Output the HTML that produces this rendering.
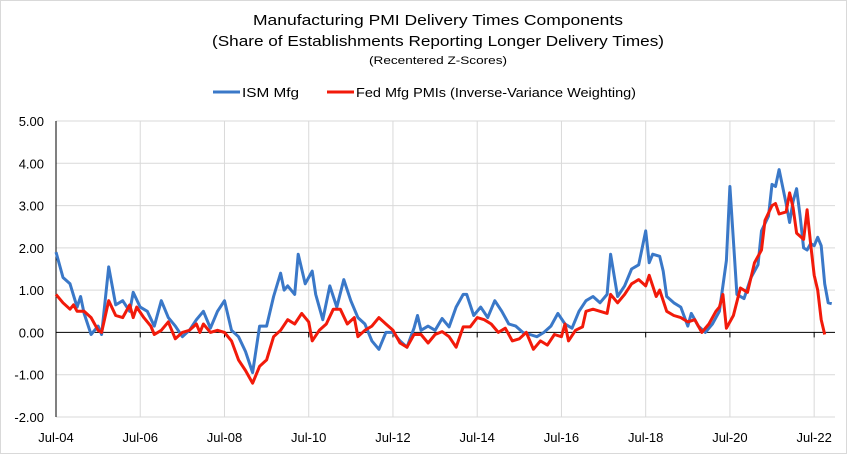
<!DOCTYPE html>
<html><head><meta charset="utf-8"><style>
body{margin:0;background:#fff}
svg{display:block;font-family:"Liberation Sans",sans-serif}
</style></head><body>
<svg id="chart" width="847" height="454" xmlns="http://www.w3.org/2000/svg">
<rect x="0.5" y="0.5" width="846" height="453" fill="#fff" stroke="#d9d9d9"/>
<g text-anchor="middle" fill="#000">
<text x="438" y="25" font-size="15" textLength="370" lengthAdjust="spacingAndGlyphs">Manufacturing PMI Delivery Times Components</text>
<text x="438" y="46" font-size="15" textLength="452" lengthAdjust="spacingAndGlyphs">(Share of Establishments Reporting Longer Delivery Times)</text>
<text x="438" y="64" font-size="11" textLength="138" lengthAdjust="spacingAndGlyphs">(Recentered Z-Scores)</text>
</g>
<g font-size="13">
<g><line x1="213" y1="92" x2="240" y2="92" stroke="#3a78c8" stroke-width="3"/><text x="242" y="97" textLength="57" lengthAdjust="spacingAndGlyphs">ISM Mfg</text></g>
<g><line x1="327" y1="92" x2="354" y2="92" stroke="#f21a0a" stroke-width="3"/><text x="356" y="97" textLength="280" lengthAdjust="spacingAndGlyphs">Fed Mfg PMIs (Inverse-Variance Weighting)</text></g>
</g>
<g id="grid"></g>
<g id="axes"></g>
<g id="series"></g>
</svg>
<script>
const yTicks=[5,4,3,2,1,0,-1,-2];
const xTickLabels=["Jul-04","Jul-06","Jul-08","Jul-10","Jul-12","Jul-14","Jul-16","Jul-18","Jul-20","Jul-22"];
const xTickMonths=[0,24,48,72,96,120,144,168,192,216];
const ismMonths=[0,2,4,6,7,8,10,12,13,15,17,19,21,22,24,26,28,30,32,34,36,38,40,42,44,46,48,50,52,54,56,58,60,62,64,65,66,68,69,71,73,74,76,78,80,82,84,86,88,90,92,94,96,98,100,102,103,104,106,108,110,112,114,116,117,119,121,123,125,127,129,131,133,135,137,139,141,143,145,147,149,151,153,155,157,158,160,162,164,166,168,169,170,172,173,174,176,178,180,181,183,185,187,189,191,192,194,196,198,200,201,203,204,205,206,208,209,210,211,212,213,214,215,216,217,218,219,220,221];
const ismValues=[1.9,1.3,1.15,0.6,0.85,0.45,-0.05,0.15,-0.05,1.55,0.65,0.75,0.5,0.95,0.6,0.5,0.15,0.75,0.35,0.15,-0.1,0.05,0.3,0.5,0.1,0.5,0.75,0.05,-0.1,-0.45,-0.95,0.15,0.15,0.85,1.4,1.0,1.1,0.9,1.85,1.15,1.45,0.9,0.3,1.1,0.6,1.25,0.75,0.35,0.2,-0.2,-0.4,0,0,-0.2,-0.35,0.1,0.4,0.05,0.15,0.05,0.33,0.13,0.6,0.9,0.9,0.4,0.6,0.35,0.75,0.5,0.2,0.15,0,-0.05,-0.1,0,0.15,0.45,0.2,0.1,0.5,0.75,0.85,0.7,0.9,1.85,0.85,1.1,1.5,1.6,2.4,1.65,1.85,1.8,1.45,0.85,0.7,0.6,0.15,0.45,0.15,0,0.2,0.5,1.7,3.45,0.9,0.8,1.3,1.6,2.4,2.75,3.5,3.45,3.85,3.05,2.6,3.1,3.4,2.75,2.0,1.95,2.1,2.05,2.25,2.05,1.15,0.7,0.68];
const fedMonths=[0,2,4,5,6,8,10,12,13,15,17,19,21,22,23,25,27,28,30,32,34,36,38,40,41,42,44,46,48,50,52,54,56,58,60,62,64,66,68,70,72,73,75,77,79,81,83,85,86,88,90,92,94,96,98,100,102,104,106,108,110,112,114,116,118,120,122,124,126,128,130,132,134,136,138,140,142,144,145,146,148,150,151,153,155,157,158,160,162,164,166,168,169,171,172,174,176,178,180,182,184,186,188,189,190,191,193,195,197,199,201,202,204,205,206,208,209,210,211,213,214,215,216,217,218,219];
const fedValues=[0.9,0.7,0.55,0.65,0.5,0.5,0.35,0.05,0,0.75,0.4,0.35,0.65,0.35,0.6,0.35,0.15,-0.05,0.05,0.25,-0.15,0,0.05,0.2,0,0.2,0,0.05,0,-0.2,-0.65,-0.9,-1.2,-0.8,-0.65,-0.1,0.05,0.3,0.2,0.45,0.25,-0.2,0.05,0.2,0.55,0.55,0.2,0.35,-0.1,0.05,0.15,0.35,0.2,0.05,-0.25,-0.35,-0.05,-0.05,-0.25,-0.05,0.02,-0.1,-0.35,0.13,0.13,0.35,0.3,0.2,0,0.1,-0.2,-0.15,0,-0.4,-0.2,-0.3,-0.05,-0.1,0.2,-0.2,0.05,0.13,0.5,0.55,0.5,0.45,0.9,0.7,0.9,1.15,1.25,1.1,1.35,0.85,1.0,0.5,0.4,0.35,0.25,0.3,0,0.2,0.5,0.6,0.9,0.1,0.4,1.05,0.95,1.65,1.95,2.65,3.0,3.05,2.8,2.85,3.3,2.95,2.35,2.2,2.9,2.1,1.35,1.0,0.3,-0.05];

const NS="http://www.w3.org/2000/svg";
const plotLeft=56,plotRight=835,plotTop=121,plotBottom=417,yMin=-2,yMax=5,pxPerMonth=3.51;
const xs=m=>plotLeft+m*pxPerMonth;
const ys=v=>plotBottom-(v-yMin)/(yMax-yMin)*(plotBottom-plotTop);
function mk(tag,attrs,parent){const e=document.createElementNS(NS,tag);for(const k in attrs)e.setAttribute(k,attrs[k]);parent.appendChild(e);return e;}
const gridG=document.getElementById('grid'),axesG=document.getElementById('axes'),seriesG=document.getElementById('series');
yTicks.forEach(v=>{
  const l=mk('line',{x1:plotLeft,x2:plotRight,y1:ys(v),y2:ys(v),stroke:v===0?'#000':'#d9d9d9','stroke-width':1},v===0?axesG:gridG);
  
  
  const t=mk('text',{x:44,y:ys(v)+5,'text-anchor':'end','font-size':13},axesG);
  t.textContent=v.toFixed(2);
  
  
});
xTickMonths.forEach((m,i)=>{
  if(i>0){const g=mk('line',{x1:xs(m),x2:xs(m),y1:plotTop,y2:plotBottom,stroke:'#d9d9d9'},gridG);
  
  }
  const tk=mk('line',{x1:xs(m),x2:xs(m),y1:ys(0),y2:ys(0)+5,stroke:'#000'},axesG);
  
  
  const t=mk('text',{x:xs(m),y:442,'text-anchor':'middle','font-size':13},axesG);
  t.textContent=xTickLabels[i];
  
  
});
const ya=mk('line',{x1:plotLeft,x2:plotLeft,y1:plotTop,y2:plotBottom,stroke:'#000'},axesG);


function drawLine(ms,vs,color,name){
  const p=mk('polyline',{points:ms.map((m,i)=>xs(m).toFixed(1)+','+ys(vs[i]).toFixed(1)).join(' '),fill:'none',stroke:color,'stroke-width':3,'stroke-linejoin':'round'},seriesG);
  
  
}
drawLine(ismMonths,ismValues,'#3a78c8','ism-mfg-line');
drawLine(fedMonths,fedValues,'#f21a0a','fed-mfg-pmis-line');
</script>
</body></html>
